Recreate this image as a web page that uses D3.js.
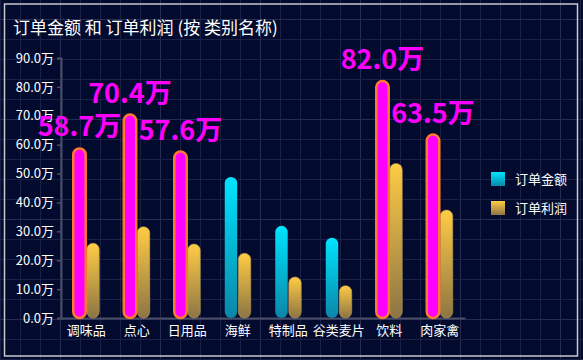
<!DOCTYPE html>
<html><head><meta charset="utf-8">
<script src="https://cdn.jsdelivr.net/npm/d3@7/dist/d3.min.js"></script>
<style>
html,body{margin:0;padding:0;background:#020a2e;overflow:hidden;}
svg{display:block;}
text{font-family:"Noto Sans CJK SC","Noto Sans",sans-serif;}
</style></head>
<body><svg id="c" width="583" height="360"></svg>
<script>
const categories = ["调味品","点心","日用品","海鲜","特制品","谷类麦片","饮料","肉家禽"];
const orderAmount = [58.7, 70.4, 57.6, 48.8, 31.9, 27.8, 82.0, 63.5];
const orderProfit = [25.9, 31.6, 25.6, 22.4, 14.2, 11.2, 53.5, 37.4];
const highlighted = ["调味品","点心","日用品","饮料","肉家禽"];
const seriesNames = ["订单金额","订单利润"];
const yTicks = [0,10,20,30,40,50,60,70,80,90];
const titleText = "订单金额 和 订单利润 (按 类别名称)";

(function(){
const W = 583, H = 360;
const svg = d3.select("#c");
const defs = svg.append("defs");

const gC = defs.append("linearGradient").attr("id","gCyan").attr("x1",0).attr("y1",0).attr("x2",0).attr("y2",1);
gC.append("stop").attr("offset","0%").attr("stop-color","#00e4ff");
gC.append("stop").attr("offset","100%").attr("stop-color","#0a86a8");
const gG = defs.append("linearGradient").attr("id","gGold").attr("x1",0).attr("y1",0).attr("x2",0).attr("y2",1);
gG.append("stop").attr("offset","0%").attr("stop-color","#ffcc44");
gG.append("stop").attr("offset","100%").attr("stop-color","#8d7544");

// background grid
const grid = svg.append("g");
for (let x = 0; x <= W; x += 20) {
  grid.append("line").attr("x1", x+0.5).attr("x2", x+0.5).attr("y1", 0).attr("y2", H)
    .attr("stroke", x % 100 === 60 ? "#272d52" : "#1a2046").attr("stroke-width", 1);
}
for (let yy = -1; yy <= H; yy += 20) {
  grid.append("line").attr("y1", yy+0.5).attr("y2", yy+0.5).attr("x1", 0).attr("x2", W)
    .attr("stroke", (yy+1) % 100 === 20 ? "#272d52" : "#1a2046").attr("stroke-width", 1);
}
svg.append("rect").attr("x",4.5).attr("y",4).attr("width",573).attr("height",352)
  .attr("fill","none").attr("stroke","#c8c8d0").attr("stroke-width",1.5);

svg.append("text").attr("x",13).attr("y",34).attr("fill","#ffffff")
  .attr("font-size",17).text(titleText);

const mLeft = 61, mRight = 465, mTop = 58, mBottom = 318;
const x0 = d3.scaleBand().domain(categories).range([mLeft, mRight]);
const bw = x0.bandwidth();
const x1 = d3.scaleBand().domain([0,1]).range([bw/2-13, bw/2+13]).paddingInner(0.08);
const y = d3.scaleLinear().domain([0,90]).range([mBottom, mTop]);

// y axis
const yAxis = d3.axisLeft(y).tickValues(yTicks).tickSize(4).tickPadding(3)
  .tickFormat(d => d.toFixed(1) + "万");
const ya = svg.append("g").attr("transform",`translate(${mLeft},0)`).call(yAxis);
ya.select(".domain").attr("stroke","#4a4d66").attr("stroke-width",2);
ya.selectAll(".tick line").attr("stroke","#4a4d66").attr("stroke-width",1.5);
ya.selectAll(".tick text").attr("fill","#ffffff").attr("font-size",13)
  .style("font-family",'"Noto Sans CJK SC",sans-serif');

// x axis
const xAxis = d3.axisBottom(x0).tickSize(0).tickPadding(8);
const xa = svg.append("g").attr("transform",`translate(0,${mBottom})`).call(xAxis);
xa.select(".domain").attr("stroke","#4a4d66").attr("stroke-width",2);
xa.selectAll(".tick text").attr("fill","#ffffff").attr("font-size",13)
  .style("font-family",'"Noto Sans CJK SC",sans-serif');

const bw1 = x1.bandwidth();
const data = categories.map((c,i)=>({c, a: orderAmount[i], p: orderProfit[i], hi: highlighted.includes(c)}));

const g = svg.append("g");
g.selectAll(".bp").data(data).enter().append("rect")
  .attr("x", d => x0(d.c) + x1(1))
  .attr("y", d => y(d.p))
  .attr("width", bw1)
  .attr("height", d => mBottom - y(d.p))
  .attr("rx", bw1/2).attr("ry", bw1/2)
  .attr("fill","url(#gGold)")
  .attr("stroke","#b89a55").attr("stroke-width",1).attr("stroke-opacity",0.6);
g.selectAll(".ba").data(data).enter().append("rect")
  .attr("x", d => x0(d.c) + x1(0))
  .attr("y", d => y(d.a))
  .attr("width", bw1)
  .attr("height", d => mBottom - y(d.a))
  .attr("rx", bw1/2).attr("ry", bw1/2)
  .attr("fill", d => d.hi ? "#ff00ff" : "url(#gCyan)")
  .attr("stroke", d => d.hi ? "#ff7a30" : "none")
  .attr("stroke-width", d => d.hi ? 2.5 : 0);

g.selectAll(".lb").data(data.filter(d=>d.hi)).enter().append("text")
  .attr("x", d => x0(d.c) + x1(0) + bw1/2)
  .attr("y", d => y(d.a) - 12)
  .attr("text-anchor","middle")
  .attr("fill","#ff00ff").attr("font-size",27).attr("font-weight","bold")
  .text(d => d.a.toFixed(1) + "万");

const lg = svg.append("g");
const lgFills = ["url(#gCyan)","url(#gGold)"];
seriesNames.forEach((s,i)=>{
  lg.append("rect").attr("x",491).attr("y",172 + i*29).attr("width",14).attr("height",14)
    .attr("fill", lgFills[i]);
  lg.append("text").attr("x",515).attr("y",179 + i*29).attr("dy","0.35em")
    .attr("fill","#ffffff").attr("font-size",13).text(s);
});
})();
</script></body></html>
